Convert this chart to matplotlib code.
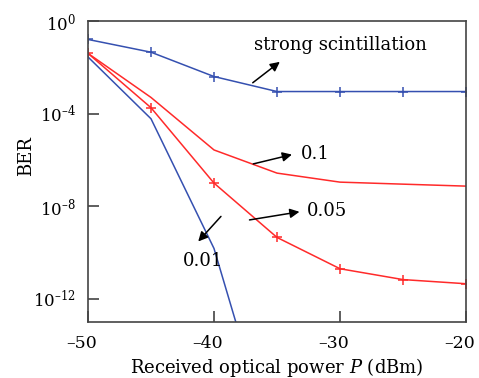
import matplotlib
matplotlib.use('Agg')
import matplotlib.pyplot as plt
import matplotlib.transforms as mtransforms

plt.rcParams['font.family'] = ['DejaVu Serif']
plt.rcParams['mathtext.fontset'] = 'dejavuserif'

# データ
power = [-50, -45, -40, -35, -30, -25, -20]
ber_strong = [1.6e-1, 4.5e-2, 4.0e-3, 9.0e-4, 9.0e-4, 9.0e-4, 9.0e-4]
ber_01 = [4.0e-2, 5.0e-4, 2.7e-6, 2.7e-7, 1.1e-7, 9.0e-8, 7.4e-8]
ber_005 = [4.0e-2, 1.8e-4, 1.0e-7, 4.5e-10, 2.0e-11, 6.8e-12, 4.5e-12]
power_001 = [-50, -45, -40, -35]
ber_001 = [2.8e-2, 6.0e-5, 1.5e-10, 1e-19]

blue = '#3550b0'
red = '#ff2a2a'

fig = plt.figure(figsize=(4.79, 3.78), dpi=100)
ax = fig.add_axes([0.1837, 0.1481, 0.9729 - 0.1837, 0.9444 - 0.1481])

ax.plot(power, ber_strong, color=blue, lw=1.1, marker='+', ms=7, mew=1.1)
ax.plot(power, ber_01, color=red, lw=1.1)
ax.plot(power, ber_005, color=red, lw=1.1, marker='+', ms=7, mew=1.1)
ax.plot(power_001, ber_001, color=blue, lw=1.1)

ax.set_yscale('log')
ax.set_xlim(-50, -20)
ax.set_ylim(1e-13, 1)
ax.set_xticks([-50, -40, -30, -20])
ax.set_xticklabels(['\u201350', '\u201340', '\u201330', '\u201320'])
ax.set_yticks([1e0, 1e-4, 1e-8, 1e-12])
ax.set_yticklabels(['10$^{0}$', '10$^{\u20134}$', '10$^{\u20138}$', '10$^{\u201312}$'])
ax.minorticks_off()
ax.tick_params(direction='in', length=8, width=1.1, labelsize=12, pad=9,
               colors='#333333', labelcolor='black')
ax.tick_params(axis='x', labelsize=12.5)
# x目盛ラベルを少し左へ
offset = mtransforms.ScaledTranslation(-6 / 100, 0, fig.dpi_scale_trans)
for lab in ax.get_xticklabels():
    lab.set_transform(lab.get_transform() + offset)
for s in ax.spines.values():
    s.set_color('#444444')
    s.set_linewidth(1.2)

ax.set_xlabel('Received optical power $P$ (dBm)', fontsize=13, labelpad=3)
ax.set_ylabel('BER', fontsize=13)
ax.yaxis.set_label_coords(-0.14, 0.55)

# 注釈
arw = dict(arrowstyle='-|>', color='black', lw=1.1, mutation_scale=14)
ax.annotate('', xy=(-34.6, 10**-1.69), xytext=(-37.1, 10**-2.74), arrowprops=arw)
ax.text(-36.8, 10**-1.04, 'strong scintillation', fontsize=13, va='center')
ax.annotate('', xy=(-33.6, 10**-5.74), xytext=(-37.1, 10**-6.2), arrowprops=arw)
ax.text(-33.1, 10**-5.74, '0.1', fontsize=13, va='center')
ax.annotate('', xy=(-33.0, 10**-8.22), xytext=(-37.4, 10**-8.61), arrowprops=arw)
ax.text(-32.6, 10**-8.22, '0.05', fontsize=13, va='center')
ax.annotate('', xy=(-41.4, 10**-9.61), xytext=(-39.3, 10**-8.35), arrowprops=arw)
ax.text(-40.9, 10**-10.35, '0.01', fontsize=13, va='center', ha='center')

plt.savefig('out.png', dpi=100)
